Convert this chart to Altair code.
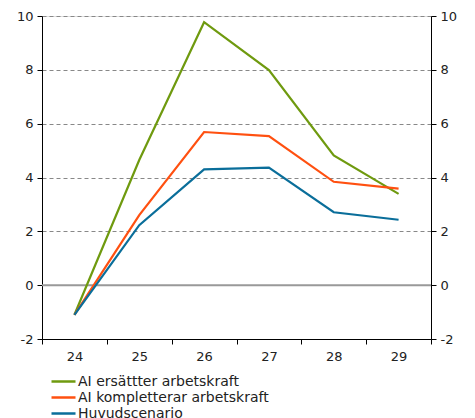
import altair as alt
import pandas as pd

years = ["24", "25", "26", "27", "28", "29"]
series_names = ["AI ersättter arbetskraft", "AI kompletterar arbetskraft", "Huvudscenario"]
ersatter = [-1.1, 4.65, 9.77, 7.99, 4.82, 3.39]
kompletterar = [-1.1, 2.6, 5.69, 5.54, 3.84, 3.59]
huvud = [-1.1, 2.23, 4.3, 4.37, 2.71, 2.43]
colors = ["#6f9a0f", "#ff5010", "#0a6e9a"]
y_ticks = [-2, 0, 2, 4, 6, 8, 10]

rows = []
for name, vals in zip(series_names, [ersatter, kompletterar, huvud]):
    for i, (yr, v) in enumerate(zip(years, vals)):
        rows.append({"year": yr, "value": v, "series": name, "order": i})
df = pd.DataFrame(rows)

FONT = "DejaVu Sans"
LABEL_EXPR = "'' + datum.value"

x_enc = alt.X(
    "year:O",
    sort=years,
    bandPosition=0.5,
    scale=alt.Scale(type="band", paddingInner=0, paddingOuter=0),
    axis=alt.Axis(
        title=None, tickBand="extent", labelAngle=0, domainColor="#000000",
        tickColor="#000000", tickSize=5, labelFontSize=13, labelColor="#222222",
        labelFont=FONT, labelPadding=6, grid=False,
    ),
)
y_scale = alt.Scale(domain=[-2, 10], nice=False)

lines = alt.Chart(df).mark_line(strokeWidth=2.2).encode(
    x=x_enc,
    y=alt.Y(
        "value:Q", scale=y_scale,
        axis=alt.Axis(
            title=None, values=y_ticks, orient="left", domainColor="#000000",
            tickColor="#000000", tickSize=5, labelFontSize=13, labelColor="#222222",
            labelFont=FONT, labelPadding=4, grid=True, gridColor="#888888",
            gridDash=[4, 3], gridWidth=1, labelExpr=LABEL_EXPR,
        ),
    ),
    color=alt.Color(
        "series:N", sort=series_names,
        scale=alt.Scale(domain=series_names, range=colors),
        legend=alt.Legend(
            title=None, orient="none", legendX=8, legendY=357, direction="vertical",
            symbolType="M-1,0H2.43", symbolSize=196, symbolStrokeWidth=2.5,
            labelFontSize=14, labelFont=FONT, labelColor="#222222",
            labelOffset=11, rowPadding=0, symbolOffset=0, labelLimit=400,
        ),
    ),
    order="order:Q",
)

zero = alt.Chart(pd.DataFrame({"z": [0]})).mark_rule(color="#999999", strokeWidth=2).encode(
    y=alt.Y("z:Q", scale=y_scale, axis=None)
)

right = alt.Chart(df).mark_line(opacity=0).encode(
    x=x_enc,
    y=alt.Y(
        "value:Q", scale=y_scale,
        axis=alt.Axis(
            title=None, values=y_ticks, orient="right", domainColor="#000000",
            tickColor="#000000", tickSize=5, labelFontSize=13, labelColor="#222222",
            labelFont=FONT, labelPadding=4, grid=False, labelExpr=LABEL_EXPR,
        ),
    ),
)

chart = alt.layer(zero, lines, right).resolve_axis(y="independent").resolve_scale(y="shared").properties(
    width=389, height=323,
    padding={"top": 2, "left": 8, "right": 5, "bottom": 0},
).configure_view(stroke=None).configure(background="white")

chart.save("out.html", embed_options={"renderer": "svg", "actions": False})
